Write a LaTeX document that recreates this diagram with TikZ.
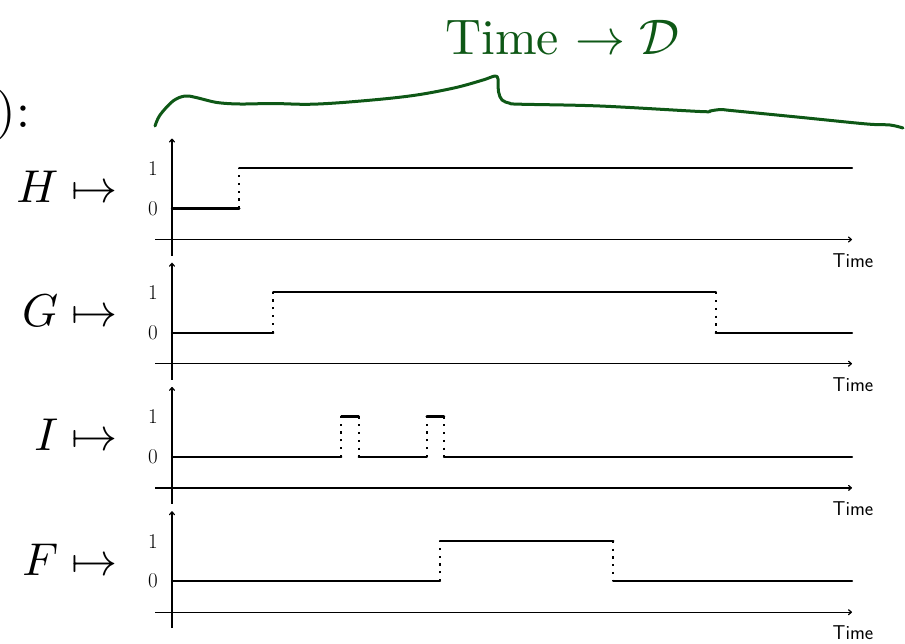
\documentclass[tikz,border=0pt]{standalone}
\usetikzlibrary{arrows.meta}
\definecolor{ink}{RGB}{14,88,22}
\begin{document}
\begin{tikzpicture}[x=1pt,y=-1pt,
  axisline/.style={line width=1.2pt},
  axisarrow/.style={axisline,-{To[length=4pt,width=6pt]}},
  sig/.style={line width=2.4pt, line cap=round},
  trans/.style={line width=2.2pt, dash pattern=on 2.2pt off 5.6pt},
  lvl/.style={font=\fontsize{21}{25}\selectfont, anchor=east, inner sep=0pt},
  timelbl/.style={font=\fontsize{20}{24}\selectfont\sffamily, anchor=north, inner sep=0pt},
  fname/.style={font=\fontsize{10}{12}\selectfont, scale=4.6, anchor=base east, inner sep=0pt},
  hand/.style={draw=ink, line width=3pt, line cap=round, line join=round}]
\useasboundingbox (0,0) rectangle (905,643);

% top fragments
\node[font=\fontsize{10}{12}\selectfont, scale=5, anchor=base east, inner sep=0pt] (head) at (31,127) {):};
\node[font=\fontsize{10}{12}\selectfont, scale=5, anchor=base west, inner sep=0pt, text=ink] (handtext) at (444,54) {Time $\to\mathcal{D}$};
\draw[hand] plot[smooth, tension=0.55] coordinates {(155,126) (160,115) (173,101) (185,96) (196,97.5) (217,102.5) (240,104) (273,103.5) (307,104.3) (340,102.7) (390,98.3) (423,94) (457,87.3) (483,80) (495,76) (498,79) (498.5,91.7) (502,100) (510,103.3) (520,104.2) (600,106) (700,111.5) (710,111) (720,109.5) (733,110.7) (800,117.3) (867,124) (890,125) (903,128)};

% axes and labels
\foreach \A/\n in {239.5/H,363.7/G,487.9/I,612.2/F}{
  \coordinate (\n-o) at (172,\A);
  \draw[axisarrow] (155,\A) -- (852,\A) coordinate (\n-end);
  \draw[axisarrow] (172,\A+16) -- (172,\A-101);
  \node[lvl] (\n-one) at (158,\A-71) {1};
  \node[lvl] (\n-zero) at (158,\A-31) {0};
  \node[timelbl] (\n-time) at (853,\A+13.5) {Time};
  \node[fname] (\n-name) at (118,\A-37) {$\n\mapsto$};
}

% H
\draw[sig] (172,208.3) -- (239.3,208.3);
\draw[trans] (239.3,208.3) -- (239.3,168);
\draw[sig] (239.3,168) -- (852,168);

% G
\draw[sig] (172,332.7) -- (273.3,332.7);
\draw[trans] (273.3,332.7) -- (273.3,292.2);
\draw[sig] (273.3,292.2) -- (715.7,292.2);
\draw[trans] (715.7,292.2) -- (715.7,332.7);
\draw[sig] (715.7,332.7) -- (852,332.7);

% I
\draw[sig] (172,456.9) -- (341.3,456.9);
\draw[trans] (341.3,456.9) -- (341.3,416.4);
\draw[sig] (341.3,416.4) -- (358.7,416.4);
\draw[trans] (358.7,416.4) -- (358.7,456.9);
\draw[sig] (358.7,456.9) -- (426.7,456.9);
\draw[trans] (426.7,456.9) -- (426.7,416.4);
\draw[sig] (426.7,416.4) -- (444,416.4);
\draw[trans] (444,416.4) -- (444,456.9);
\draw[sig] (444,456.9) -- (852,456.9);

% F
\draw[sig] (172,581.2) -- (440,581.2);
\draw[trans] (440,581.2) -- (440,540.7);
\draw[sig] (440,540.7) -- (613.3,540.7);
\draw[trans] (613.3,540.7) -- (613.3,581.2);
\draw[sig] (613.3,581.2) -- (852,581.2);
\end{tikzpicture}
\end{document}
